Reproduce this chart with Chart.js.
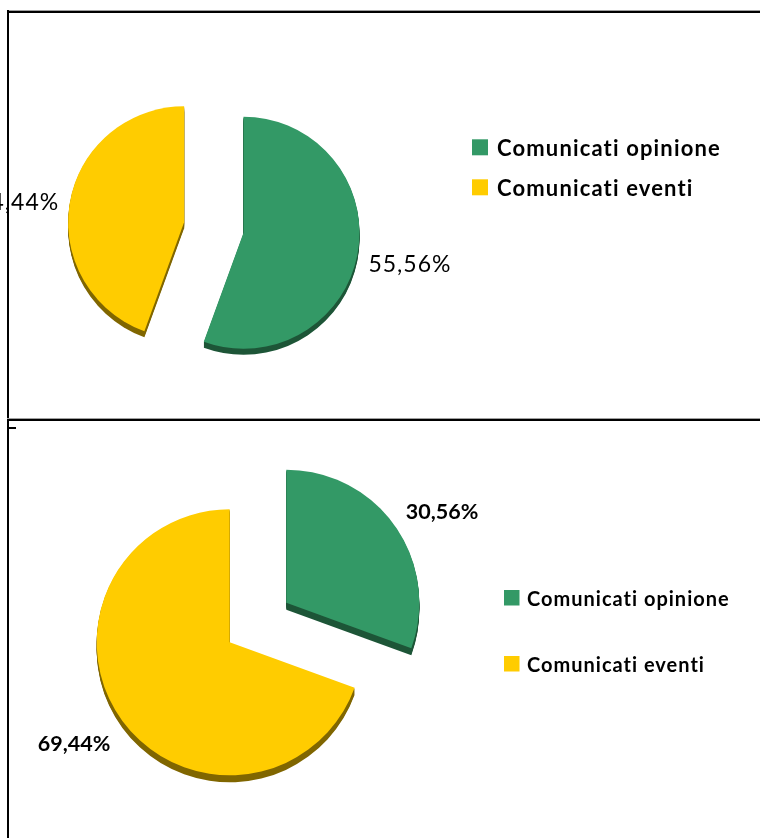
<!DOCTYPE html>
<html>
<head>
<meta charset="utf-8">
<script src="https://cdn.jsdelivr.net/npm/chart.js@4.4.1/dist/chart.umd.min.js"></script>
<style>
  html, body { margin: 0; padding: 0; background: #fff; width: 760px; height: 838px; overflow: hidden; }
  .wrap { position: absolute; left: 0; }
  .ln { position: absolute; background: #000; }
</style>
</head>
<body>
<div class="wrap" style="top:0;width:760px;height:418px"><canvas id="c1" width="760" height="418"></canvas></div>
<div class="wrap" style="top:418px;width:760px;height:420px"><canvas id="c2" width="760" height="420"></canvas></div>
<div class="ln" style="left:7px;top:10px;width:753px;height:1px;background:#a0a0a0"></div>
<div class="ln" style="left:7px;top:11px;width:753px;height:2px"></div>
<div class="ln" style="left:7px;top:10px;width:2px;height:828px"></div>
<div class="ln" style="left:7px;top:418px;width:753px;height:1px;background:#a0a0a0"></div>
<div class="ln" style="left:7px;top:419px;width:753px;height:2px"></div>
<div class="ln" style="left:7px;top:427px;width:9px;height:2px"></div>
<script>
// ---- data ----
const categories = ['Comunicati opinione', 'Comunicati eventi'];
const valuesTop = [55.56, 44.44];
const valuesBottom = [30.56, 69.44];
const sliceColors = ['#339966', '#FFCC00'];
const sideColors = ['#1d5537', '#806600'];

function fmtPct(v) { return v.toFixed(2).replace('.', ',') + '%'; }

const pie3d = {
  id: 'pie3d',
  beforeDatasetDraw(chart, args, o) {
    const ctx = chart.ctx;
    const arcs = args.meta.data;
    const geo = arcs.map(a => {
      const p = a.getProps(['x', 'y', 'startAngle', 'endAngle', 'outerRadius'], true);
      const mid = (p.startAngle + p.endAngle) / 2;
      const d = o.explode * p.outerRadius;
      return { cx: p.x + Math.cos(mid) * d, cy: p.y + Math.sin(mid) * d, r: p.outerRadius, s: p.startAngle, e: p.endAngle, mid };
    });
    ctx.save();
    geo.forEach((g, i) => {
      ctx.fillStyle = o.sideColors[i];
      for (let k = 1; k <= o.depth; k++) {
        ctx.beginPath();
        ctx.moveTo(g.cx, g.cy + k);
        ctx.arc(g.cx, g.cy + k, g.r, g.s, g.e);
        ctx.closePath();
        ctx.fill();
      }
    });
    geo.forEach((g, i) => {
      ctx.fillStyle = arcs[i].options.backgroundColor;
      ctx.beginPath();
      ctx.moveTo(g.cx, g.cy);
      ctx.arc(g.cx, g.cy, g.r, g.s, g.e);
      ctx.closePath();
      ctx.fill();
    });
    const vals = chart.data.datasets[args.index].data;
    ctx.fillStyle = '#000';
    ctx.font = o.labelFont;
    if ('letterSpacing' in ctx) ctx.letterSpacing = o.labelSpacing;
    ctx.textAlign = 'center';
    ctx.textBaseline = 'alphabetic';
    geo.forEach((g, i) => {
      const dist = g.r + o.labelGap;
      const px = g.cx + Math.cos(g.mid) * dist;
      const py = g.cy + Math.sin(g.mid) * dist * o.labelSquash + o.labelDrop;
      ctx.fillText(fmtPct(vals[i]), px, py + o.labelSize * 0.358);
    });
    ctx.restore();
    return false;
  }
};

const sideLegend = {
  id: 'sideLegend',
  afterDraw(chart, args, o) {
    const ctx = chart.ctx;
    ctx.save();
    ctx.font = o.font;
    if ('letterSpacing' in ctx) ctx.letterSpacing = o.spacing;
    ctx.textAlign = 'left';
    ctx.textBaseline = 'alphabetic';
    chart.data.labels.forEach((lab, i) => {
      const top = o.y + i * o.rowGap;
      ctx.fillStyle = chart.data.datasets[0].backgroundColor[i];
      ctx.fillRect(o.x, top, o.box, o.box);
      ctx.fillStyle = '#000';
      ctx.fillText(lab, o.textX, top + o.textDy);
    });
    ctx.restore();
  }
};

function makePie(id, values, cfg) {
  return new Chart(document.getElementById(id), {
    type: 'pie',
    data: {
      labels: categories,
      datasets: [{ data: values, backgroundColor: sliceColors, borderWidth: 0 }]
    },
    options: {
      responsive: false,
      animation: false,
      radius: cfg.radius,
      layout: { padding: cfg.padding },
      plugins: {
        legend: { display: false },
        tooltip: { enabled: false },
        pie3d: cfg.pie,
        sideLegend: cfg.legend
      }
    },
    plugins: [pie3d, sideLegend]
  });
}

makePie('c1', valuesTop, {
  radius: 116,
  padding: { left: 0, right: 332.4, top: 37, bottom: 0 },
  pie: { explode: 0.26, depth: 6, sideColors: sideColors, labelFont: '23px Lato', labelSpacing: '1px', labelSize: 23, labelGap: 53, labelSquash: 0.88, labelDrop: 5 },
  legend: { x: 472, y: 139.3, box: 16, rowGap: 40, textX: 497, textDy: 16.3, font: 'bold 22px Lato', spacing: '1.15px' }
});

makePie('c2', valuesBottom, {
  radius: 133,
  padding: { left: 0, right: 244, top: 0, bottom: 11 },
  pie: { explode: 0.26, depth: 7, sideColors: sideColors, labelFont: 'bold 21.5px Lato', labelSpacing: '0px', labelSize: 21.5, labelGap: 57, labelSquash: 0.88, labelDrop: 5 },
  legend: { x: 504, y: 172, box: 15.5, rowGap: 66, textX: 527, textDy: 16.2, font: 'bold 20px Lato', spacing: '1px' }
});
</script>
</body>
</html>
